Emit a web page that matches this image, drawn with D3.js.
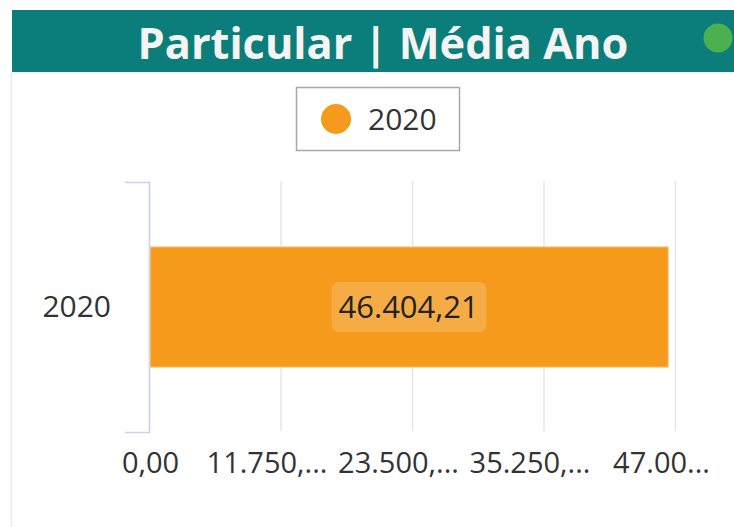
<!DOCTYPE html>
<html>
<head>
<meta charset="utf-8">
<script src="https://cdn.jsdelivr.net/npm/d3@7"></script>
<style>
  html, body { margin: 0; padding: 0; background: #fff; }
  svg { display: block; font-family: "Open Sans", "Noto Sans", sans-serif; }
</style>
</head>
<body>
<svg class="chart" width="734" height="527"></svg>
<script>
// dados do gráfico
const title = "Particular | Média Ano";
const categories = ["2020"];
const values = [46404.21];
const valueLabels = ["46.404,21"];
const legendLabels = ["2020"];
const xTicks = [0, 11750, 23500, 35250, 47000];
const xTickLabels = ["0,00", "11.750,...", "23.500,...", "35.250,...", "47.00..."];

const width = 734, height = 527;
const svg = d3.select(".chart");

const barColor = "#f59a1b";

// moldura cinza à esquerda
svg.append("line")
    .attr("x1", 11.5).attr("x2", 11.5)
    .attr("y1", 72).attr("y2", height)
    .style("stroke", "#ececec")
    .style("stroke-width", 1.5);

// cabeçalho
svg.append("rect")
    .attr("x", 12).attr("y", 10)
    .attr("width", width - 12).attr("height", 62)
    .style("fill", "#0b7d7a");

const titleText = svg.append("text")
    .attr("x", 383)
    .attr("y", 59)
    .attr("text-anchor", "middle")
    .style("font-weight", "bold")
    .style("font-size", "36px")
    .style("fill", "#f4f4f4")
    .text(title);
// ajusta o tamanho para a largura do original (~491px)
const tw = titleText.node().getComputedTextLength();
titleText.style("font-size", (36 * 491 / tw) + "px");

svg.append("circle")
    .attr("cx", 718).attr("cy", 38).attr("r", 14.5)
    .style("fill", "#4caf50");

// legenda
const legend = svg.append("g").attr("transform", "translate(296, 87)");
legend.append("rect")
    .attr("x", 0.5).attr("y", 0.5)
    .attr("width", 163).attr("height", 63)
    .style("fill", "#fff")
    .style("stroke", "#a8a8a8")
    .style("stroke-width", 1.5);
legend.selectAll("circle")
    .data(legendLabels)
    .enter().append("circle")
    .attr("cx", 40).attr("cy", 32).attr("r", 15)
    .style("fill", barColor);
legend.selectAll("text")
    .data(legendLabels)
    .enter().append("text")
    .attr("x", 72).attr("y", 43)
    .style("font-size", "30px")
    .style("fill", "#333")
    .text(d => d);

// escalas
const xScale = d3.scaleLinear()
    .domain([0, 47000])
    .range([149, 675]);

const yScale = d3.scaleBand()
    .domain(categories)
    .range([182, 432])
    .paddingInner(0.35)
    .paddingOuter(0.35);

// grade e eixo x
const xAxis = d3.axisBottom(xScale)
    .tickValues(xTicks)
    .tickFormat((d, i) => xTickLabels[i])
    .tickSize(-(432 - 182))
    .tickPadding(21);

const gx = svg.append("g")
    .attr("class", "x-axis")
    .attr("transform", "translate(0, 431)")
    .call(xAxis);
gx.select(".domain").remove();
gx.selectAll(".tick line")
    .style("stroke", "#e6e6e6")
    .style("stroke-width", 1.5);
gx.selectAll(".tick text")
    .attr("dx", (d, i) => i === 0 ? 1 : -14)
    .style("font-size", "29px")
    .style("fill", "#333")
    .style("font-family", "\"Open Sans\", sans-serif");

// barras
svg.selectAll(".bar")
    .data(values)
    .enter().append("rect")
    .attr("class", "bar")
    .attr("x", xScale(0) + 1)
    .attr("y", (d, i) => yScale(categories[i]))
    .attr("width", d => xScale(d) - xScale(0) - 1)
    .attr("height", yScale.bandwidth())
    .style("fill", barColor)
    .style("stroke", "#fbd29a")
    .style("stroke-width", 1);

// rótulo de dados
const lbl = svg.selectAll(".data-label")
    .data(values)
    .enter().append("g")
    .attr("class", "data-label")
    .attr("transform", (d, i) =>
        `translate(${(xScale(0) + xScale(d)) / 2}, ${yScale(categories[i]) + yScale.bandwidth() / 2})`);
lbl.append("rect")
    .attr("x", -77).attr("y", -25)
    .attr("width", 155).attr("height", 50)
    .attr("rx", 7)
    .style("fill", "#fff")
    .style("opacity", 0.18);
lbl.append("text")
    .attr("text-anchor", "middle")
    .attr("y", 11)
    .style("font-size", "31px")
    .style("fill", "#222")
    .text((d, i) => valueLabels[i]);

// eixo y (colchete)
const yAxis = d3.axisLeft(yScale)
    .tickSizeInner(0)
    .tickSizeOuter(24)
    .tickPadding(38);

const gy = svg.append("g")
    .attr("class", "y-axis")
    .attr("transform", "translate(149, 0)")
    .call(yAxis);
gy.select(".domain")
    .style("stroke", "#c8d3ec")
    .style("stroke-width", 1.5);
gy.selectAll(".tick text")
    .style("font-size", "30px")
    .style("fill", "#333")
    .style("font-family", "\"Open Sans\", sans-serif");
</script>
</body>
</html>
